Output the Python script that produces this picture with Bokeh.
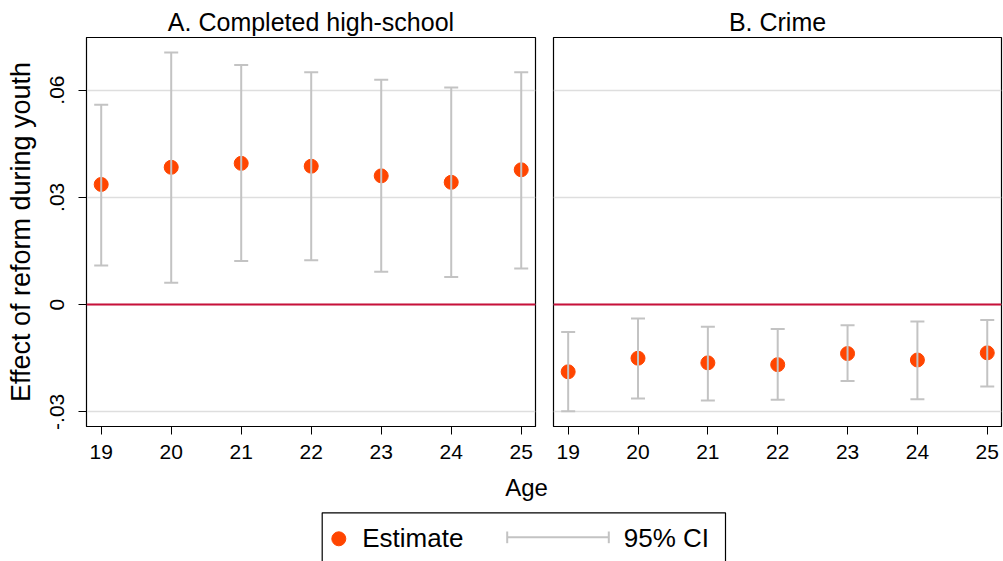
from bokeh.plotting import figure
from bokeh.models import (Range1d, FixedTicker, Whisker, TeeHead, ColumnDataSource,
                          Span, CustomJSTickFormatter)
from bokeh.layouts import column, row
from bokeh.core.properties import value
from bokeh.embed import file_html
from bokeh.resources import INLINE

# ---------------- data ----------------
ages = [19, 20, 21, 22, 23, 24, 25]
hs_est = [0.0336, 0.0384, 0.0395, 0.0387, 0.0360, 0.0342, 0.0377]
hs_lo = [0.0109, 0.0061, 0.0122, 0.0124, 0.0092, 0.0077, 0.0101]
hs_hi = [0.0559, 0.0705, 0.0670, 0.0650, 0.0629, 0.0607, 0.0650]
cr_est = [-0.0188, -0.0150, -0.0163, -0.0168, -0.0137, -0.0155, -0.0135]
cr_lo = [-0.0298, -0.0263, -0.0268, -0.0266, -0.0214, -0.0265, -0.0229]
cr_hi = [-0.0077, -0.0039, -0.0062, -0.0068, -0.0058, -0.0047, -0.0043]
panel_titles = ["A. Completed high-school", "B. Crime"]
y_ticks = [-0.03, 0.0, 0.03, 0.06]
y_label = "Effect of reform during youth"
x_label = "Age"
legend_labels = ["Estimate", "95% CI"]

FONT = "Liberation Sans"
DOT = "#ff4500"
CI = "#c3c3c3"
GRID = "#dedede"
ZERO = "#c8103a"

fmt = CustomJSTickFormatter(code="""
if (Math.abs(tick) < 1e-12) { return '0'; }
return tick.toFixed(2).replace('0.', '.');
""")


def make_panel(title, est, lo, hi, width, left, right, show_y):
    p = figure(width=width, height=470,
               x_range=Range1d(18.79, 25.204), y_range=Range1d(-0.0341, 0.0747),
               output_backend="svg", toolbar_location=None,
               min_border_left=left, min_border_right=right,
               min_border_top=37, min_border_bottom=44)
    p.title.text = title
    p.title.align = "center"
    p.title.text_font = FONT
    p.title.text_font_size = "25px"
    p.title.text_font_style = "normal"
    p.title.text_color = "black"
    p.title.standoff = 4

    p.outline_line_color = "black"
    p.outline_line_width = 1.2
    p.outline_line_alpha = 1

    p.xgrid.visible = False
    p.ygrid.ticker = FixedTicker(ticks=y_ticks)
    p.ygrid.grid_line_color = GRID
    p.ygrid.grid_line_width = 1.5

    p.xaxis.ticker = FixedTicker(ticks=ages)
    p.xaxis.minor_tick_line_color = None
    p.xaxis.major_tick_out = 8
    p.xaxis.major_tick_in = 0
    p.xaxis.major_tick_line_color = "black"
    p.xaxis.axis_line_color = "black"
    p.xaxis.major_label_text_font = FONT
    p.xaxis.major_label_text_font_size = "21px"
    p.xaxis.major_label_text_color = "black"
    p.xaxis.major_label_standoff = 10

    if show_y:
        p.yaxis.ticker = FixedTicker(ticks=y_ticks)
        p.yaxis.formatter = fmt
        p.yaxis.minor_tick_line_color = None
        p.yaxis.major_tick_out = 8
        p.yaxis.major_tick_in = 0
        p.yaxis.major_tick_line_color = "black"
        p.yaxis.axis_line_color = "black"
        p.yaxis.major_label_orientation = "vertical"
        p.yaxis.major_label_text_font = FONT
        p.yaxis.major_label_text_font_size = "21px"
        p.yaxis.major_label_text_color = "black"
        p.yaxis.major_label_standoff = 14
        p.yaxis.axis_label = y_label
        p.yaxis.axis_label_text_font = FONT
        p.yaxis.axis_label_text_font_size = "27px"
        p.yaxis.axis_label_text_font_style = "normal"
        p.yaxis.axis_label_text_color = "black"
        p.yaxis.axis_label_standoff = 12
    else:
        p.yaxis.visible = False

    p.add_layout(Span(location=0, dimension="width", line_color=ZERO, line_width=2))

    src = ColumnDataSource(dict(x=ages, est=est, lo=lo, hi=hi))
    w = Whisker(base="x", lower="lo", upper="hi", source=src,
                line_color=CI, line_width=2, level="glyph",
                lower_head=TeeHead(size=14, line_color=CI, line_width=2),
                upper_head=TeeHead(size=14, line_color=CI, line_width=2))
    p.add_layout(w)
    p.scatter("x", "est", source=src, marker="circle", size=14,
              fill_color=DOT, line_color=DOT)
    return p


p1 = make_panel(panel_titles[0], hs_est, hs_lo, hs_hi, 544, 86, 9, True)
p2 = make_panel(panel_titles[1], cr_est, cr_lo, cr_hi, 459, 9, 2, False)

# ---------------- bottom strip: axis title + legend ----------------
p3 = figure(width=1003, height=91, x_range=Range1d(0, 1003), y_range=Range1d(91, 0),
            output_backend="svg", toolbar_location=None,
            min_border_left=0, min_border_right=0, min_border_top=0, min_border_bottom=0)
p3.axis.visible = False
p3.grid.visible = False
p3.outline_line_color = None

p3.text(x=[526], y=[17], text=[x_label], text_font=value(FONT), text_font_size="24px",
        text_align="center", text_baseline="alphabetic", text_color="black")
p3.quad(left=[321.7], right=[725], top=[42.3], bottom=[110], fill_color=None,
        line_color="black", line_width=1.2)
p3.scatter(x=[338.3], y=[68.3], marker="circle", size=14, fill_color=DOT, line_color=DOT)
p3.text(x=[361.7, 623.3], y=[67, 67], text=legend_labels, text_font=value(FONT),
        text_font_size="26px", text_align="left", text_baseline="alphabetic",
        text_color="black")
p3.segment(x0=[506.7], y0=[66.7], x1=[608.3], y1=[66.7], line_color=CI, line_width=2)
p3.segment(x0=[506.7, 608.3], y0=[61, 61], x1=[506.7, 608.3], y1=[72.7, 72.7],
           line_color=CI, line_width=2)

layout = column(row(p1, p2), p3)
open("out.html", "w").write(file_html(layout, INLINE))
